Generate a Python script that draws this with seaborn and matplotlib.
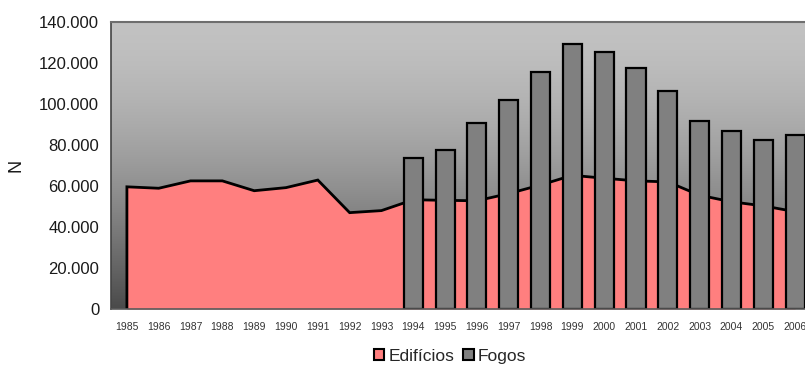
import numpy as np
import pandas as pd
import matplotlib
matplotlib.use("Agg")
import matplotlib.pyplot as plt
from matplotlib.patches import Patch
import seaborn as sns

# Annual series: buildings (area) and dwellings (bars)
years = [str(y) for y in range(1985, 2007)]
edificios = [59600, 58900, 62500, 62500, 57700, 59200, 62900, 47000, 48000,
             53300, 53000, 52800, 56300, 60500, 65200, 63800, 62500, 62000,
             55500, 52300, 50300, 47500]
fogos = [np.nan] * 9 + [73500, 77700, 90900, 102000, 115500, 129100, 125200,
                        117600, 106200, 91600, 86700, 82400, 84900]
y_ticks = [0, 20000, 40000, 60000, 80000, 100000, 120000, 140000]

PINK = "#ff7f7f"
GREY = "#808080"

df = pd.DataFrame({"ano": years, "Edifícios": edificios, "Fogos": fogos})

sns.set_style("white")
plt.rcParams["font.family"] = ["Liberation Sans", "DejaVu Sans"]

fig = plt.figure(figsize=(8.05, 3.73), dpi=100)
ax = fig.add_axes([111 / 805, 64 / 373, 700 / 805, 287 / 373])

# vertical grey gradient for the plot area (light at top, dark at bottom)
t = np.linspace(0, 1, 300)[:, None]
g = 0.76 - (0.76 - 0.29) * t ** 1.6
img = np.dstack([g, g, g])
ax.imshow(img, extent=[0, 1, 0, 1], transform=ax.transAxes,
          aspect="auto", zorder=0, interpolation="bilinear")

# area series
pos = np.arange(len(years))
ax.fill_between(pos, df["Edifícios"], 0, color=PINK, linewidth=0, zorder=2)
ax.plot(np.r_[pos[0], pos, pos[-1]],
        np.r_[0, df["Edifícios"], 0],
        color="black", linewidth=2.0, zorder=2.5, solid_joinstyle="miter")

# bar series
sns.barplot(data=df, x="ano", y="Fogos", order=years, color=GREY,
            saturation=1, width=0.6, edgecolor="black", linewidth=1.6,
            ax=ax, zorder=3)

ax.set_xlim(-0.5, len(years) - 0.5)
ax.set_ylim(0, 140000)

# x axis: labels at category centres, tick marks at boundaries
ax.set_xticks(pos)
ax.set_xticklabels(years, fontsize=7.5, color="#333333")
ax.tick_params(axis="x", which="major", length=0, pad=9)
ax.set_xticks(np.arange(-0.5, len(years), 1), minor=True)
ax.tick_params(axis="x", which="minor", length=4, width=1,
               direction="out", color="#555555")
ax.set_xlabel("")

# y axis
ax.set_yticks(y_ticks)
ax.set_yticklabels(["0" if v == 0 else f"{v:,.0f}".replace(",", ".")
                    for v in y_ticks], fontsize=12, color="#1a1a1a")
ax.tick_params(axis="y", length=4.5, width=1, direction="out",
               color="#555555", pad=4)
ax.set_ylabel("N", fontsize=13, color="#1a1a1a")
ax.yaxis.set_label_coords(-0.123, 0.5)

for side, col, lw in [("top", "#6e6e6e", 1.5), ("left", "#444444", 1.2),
                      ("bottom", "#5a5a5a", 1.2), ("right", "#6e6e6e", 1.2)]:
    ax.spines[side].set_visible(True)
    ax.spines[side].set_color(col)
    ax.spines[side].set_linewidth(lw)
    ax.spines[side].set_zorder(5)

handles = [Patch(facecolor=PINK, edgecolor="black", linewidth=1.5, label="Edifícios"),
           Patch(facecolor=GREY, edgecolor="black", linewidth=1.5, label="Fogos")]
fig.legend(handles=handles, loc="center", bbox_to_anchor=(0.559, 0.045),
           ncol=2, frameon=False, fontsize=12.5, handlelength=0.6,
           handleheight=0.6, handletextpad=0.25, columnspacing=0.5)

fig.savefig("out.png", dpi=100)
